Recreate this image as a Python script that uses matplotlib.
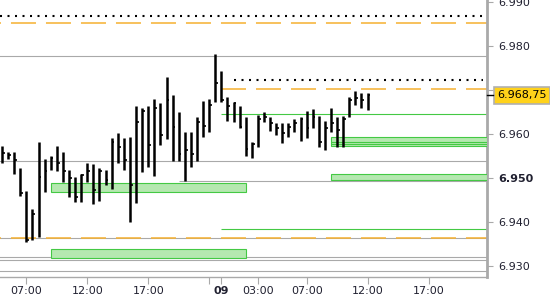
import matplotlib
matplotlib.use("Agg")
import matplotlib.pyplot as plt
from matplotlib.patches import Rectangle

# dash patterns below are given directly in points
plt.rcParams["lines.scale_dashes"] = False

# half-hour bars (price in points, shown as 6.9xx)
highs = [6957.25, 6956.0, 6956.0, 6952.25, 6947.0, 6943.0, 6958.25, 6954.25, 6955.0, 6957.25,
         6956.0, 6951.75, 6950.25, 6951.0, 6953.5, 6953.25, 6952.25, 6951.75, 6959.0, 6960.25,
         6959.0, 6959.25, 6966.25, 6966.0, 6966.25, 6968.0, 6967.0, 6973.0, 6968.75, 6965.0,
         6960.5, 6960.5, 6963.75, 6967.5, 6968.0, 6978.25, 6974.25, 6968.5, 6967.25, 6966.25,
         6963.75, 6958.25, 6964.25, 6965.0, 6963.75, 6962.5, 6962.5, 6962.5, 6963.5, 6963.75,
         6965.25, 6965.75, 6964.0, 6963.0, 6966.0, 6963.75, 6964.0, 6968.5, 6969.75, 6969.25,
         6969.25]
lows = [6953.5, 6954.25, 6951.0, 6946.0, 6935.5, 6936.0, 6936.5, 6946.75, 6951.75, 6951.5,
        6949.0, 6945.75, 6944.5, 6944.5, 6949.0, 6944.0, 6944.75, 6948.5, 6947.5, 6953.5,
        6951.75, 6940.0, 6944.25, 6951.25, 6952.5, 6950.5, 6957.5, 6958.75, 6953.75, 6953.75,
        6949.25, 6952.5, 6953.75, 6959.25, 6960.5, 6967.25, 6967.25, 6963.0, 6962.75, 6961.25,
        6955.0, 6954.5, 6957.0, 6962.75, 6960.75, 6959.75, 6958.0, 6959.25, 6960.5, 6958.5,
        6959.0, 6961.25, 6957.0, 6956.25, 6960.5, 6957.0, 6957.0, 6963.75, 6966.5, 6966.0,
        6965.5]
closes = [6955.75, 6955.25, 6954.0, 6946.5, 6936.0, 6941.75, 6950.25, 6951.5, 6954.5, 6953.5,
          6951.5, 6950.0, 6945.75, 6950.75, 6951.5, 6947.25, 6951.5, 6949.5, 6958.25, 6957.0,
          6954.0, 6948.5, 6962.75, 6965.25, 6957.5, 6966.0, 6959.75, 6967.75, 6961.5, 6955.5,
          6956.25, 6955.5, 6962.75, 6961.75, 6966.5, 6971.5, 6967.75, 6966.25, 6967.0, 6961.5,
          6956.5, 6957.75, 6963.5, 6963.75, 6962.5, 6961.25, 6960.25, 6961.5, 6962.5, 6963.5,
          6961.25, 6963.75, 6958.25, 6961.25, 6962.5, 6961.0, 6963.5, 6967.75, 6968.25, 6967.75,
          6968.75]

tick_pos = [4, 14, 24, 36, 42, 50, 60, 70]
tick_labels = ["07:00", "12:00", "17:00", "09", "03:00", "07:00", "12:00", "17:00"]
session_open = 34
last_price = 6968.75

# reference levels
gray_levels = [6977.75, 6953.75, 6936.25, 6932.0, 6931.25, 6928.75]
gray_partial = (6949.25, 29)
dotted_levels = [(6986.75, None), (6972.25, 38)]
orange_levels = [(6985.25, None), (6936.25, None), (6970.25, 36)]
green_levels = [(6964.5, 36), (6938.5, 36)]
zone_lo = [6946.75, 6931.75, 6949.5, 6957.25]
zone_hi = [6948.75, 6933.75, 6951.0, 6959.25]
zone_start = [8, 8, 54, 54]
zone_end = [40, 40, None, None]
zone_inner = [6958.25, 6957.75]

GRAY = "#a9a9a9"
ORANGE = "#f5b030"
GREEN = "#44c944"
FILL = "#b5e8b0"

x_left, x_right = -0.33, 79.6

fig = plt.figure(figsize=(5.5, 3), dpi=100)
ax = fig.add_axes([0, 1 - 277 / 300, 487 / 550, 277 / 300])
ax.set_xlim(x_left, x_right)
ax.set_ylim(6927.5, 6990.45)

for y in gray_levels:
    ax.axhline(y, color=GRAY, lw=0.8, zorder=1)
ax.hlines(gray_partial[0], gray_partial[1], x_right, color=GRAY, lw=0.8, zorder=1)

# orange: 25px dash / 10px gap, all on the same phase
for y, start in orange_levels:
    off = 17.3 if start is None else 0
    ax.hlines(y, x_left if start is None else start, x_right, color=ORANGE, lw=1.1,
              linestyles=[(off, (18, 7.2))], zorder=2)

for y, start in dotted_levels:
    ax.hlines(y, x_left if start is None else start, x_right - 0.6, color="black", lw=1.5,
              linestyles=[(0, (1.45, 3.95))], zorder=2)

for y, start in green_levels:
    ax.hlines(y, start, x_right, color=GREEN, lw=0.8, zorder=2)

for lo, hi, s, e in zip(zone_lo, zone_hi, zone_start, zone_end):
    end = x_right if e is None else e
    ax.add_patch(Rectangle((s, lo), end - s, hi - lo, facecolor=FILL, edgecolor=GREEN,
                           lw=0.8, zorder=3))
ax.hlines(zone_inner, zone_start[3], x_right, color=GREEN, lw=0.8, zorder=3)

# bars
idx = list(range(len(highs)))
ax.vlines(idx, lows, highs, color="black", lw=1.8, zorder=5)
ax.hlines(closes, idx, [i + 0.45 for i in idx], color="black", lw=1.2, zorder=5)

# axes styling
for side in ["left", "top"]:
    ax.spines[side].set_visible(False)
ax.spines["right"].set_color(GRAY)
ax.spines["right"].set_linewidth(2)
ax.spines["bottom"].set_color(GRAY)
ax.spines["bottom"].set_linewidth(1)

ax.yaxis.tick_right()
ax.set_yticks([6930, 6940, 6950, 6960, 6970, 6980, 6990])
ax.set_yticklabels(["6.930", "6.940", "6.950", "6.960", "", "6.980", "6.990"])
ax.get_yticklabels()[2].set_fontweight("bold")
ax.tick_params(axis="y", length=4, width=0.8, color=GRAY, pad=4, labelsize=8,
               labelcolor="#202030")

ax.set_xticks(tick_pos)
ax.set_xticklabels(tick_labels)
ax.set_xticks([session_open], minor=True)
ax.tick_params(axis="x", which="both", length=5, width=0.8, color=GRAY, pad=1.5,
               labelsize=8, labelcolor="#202030")
ax.get_xticklabels()[3].set_fontweight("bold")

# last price marker
trans = ax.get_yaxis_transform()
ax.plot([1.0, 1.013], [last_price, last_price], transform=trans, color="black",
        lw=1, clip_on=False, zorder=6)
ax.text(1.0 + 10 / 487, last_price, "6.968,75", transform=trans, fontsize=8,
        va="center", ha="left", color="black",
        bbox=dict(boxstyle="square,pad=0.3", facecolor="#ffd21a", edgecolor="#b0b0b0", lw=1.2))

fig.savefig("out.png", dpi=100)
